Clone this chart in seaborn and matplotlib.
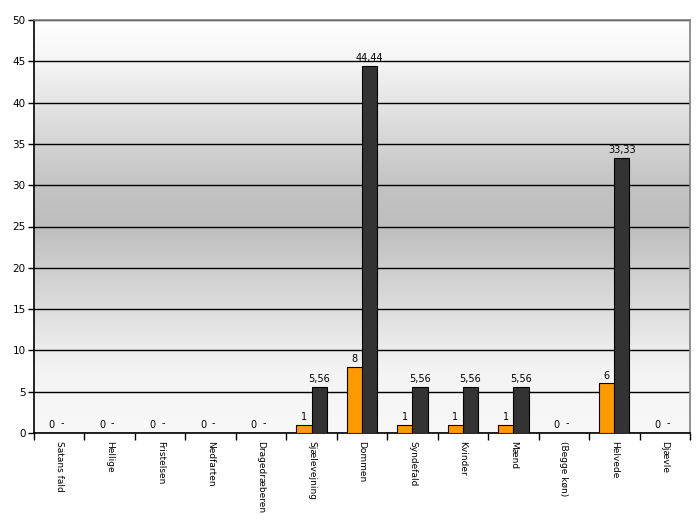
import numpy as np
import pandas as pd
import seaborn as sns
import matplotlib.pyplot as plt
from matplotlib.colors import LinearSegmentedColormap

categories = ['Satans fald', 'Hellige', 'Fristelsen', 'Nedfarten', 'Dragedræberen',
              'Sjælevejning', 'Dommen', 'Syndefald', 'Kvinder', 'Mænd',
              '(Begge køn)', 'Helvede', 'Djævle']
antal = [0, 0, 0, 0, 0, 1, 8, 1, 1, 1, 0, 6, 0]
procent = [0, 0, 0, 0, 0, 5.56, 44.44, 5.56, 5.56, 5.56, 0, 33.33, 0]
series = ['Antal', 'Procent']
colors = ['#FF9900', '#333333']

df = pd.DataFrame({
    'kategori': categories * 2,
    'serie': [series[0]] * len(categories) + [series[1]] * len(categories),
    'vaerdi': antal + procent,
})

sns.set_style('white')
plt.rcParams['font.family'] = ['DejaVu Sans']
plt.rcParams['text.color'] = 'black'
plt.rcParams['xtick.color'] = 'black'
plt.rcParams['ytick.color'] = 'black'

fig = plt.figure(figsize=(7, 5.25), dpi=100)
ax = fig.add_axes([34 / 700, 1 - 433 / 525, 656 / 700, 413 / 525])

# vertical grey gradient behind the bars
grad = LinearSegmentedColormap.from_list(
    'bg', [(0.0, '#f8f8f8'), (0.15, '#f4f4f4'), (0.5, '#bebebe'), (0.6, '#c3c3c3'),
           (0.9, '#f5f5f5'), (1.0, '#ffffff')])
ax.imshow(np.linspace(0, 1, 256).reshape(-1, 1), cmap=grad, aspect='auto',
          extent=[0, 1, 0, 1], transform=ax.transAxes, origin='lower', zorder=0)

sns.barplot(data=df, x='kategori', y='vaerdi', hue='serie', hue_order=series,
            palette=colors, saturation=1, width=0.6, gap=0, edgecolor='black',
            linewidth=0.8, legend=False, ax=ax, zorder=3)

ax.set_xlim(-0.5, len(categories) - 0.5)
ax.set_ylim(0, 50)
ax.set_yticks(range(0, 51, 5))
ax.yaxis.grid(True, color='black', linewidth=1.0, zorder=1)
ax.set_axisbelow(True)
ax.set_xlabel('')
ax.set_ylabel('')

for s in ['left', 'bottom']:
    ax.spines[s].set_color('black')
    ax.spines[s].set_linewidth(1.2)
for s in ['top', 'right']:
    ax.spines[s].set_color('#808080')
    ax.spines[s].set_linewidth(1.2)

ax.tick_params(axis='y', left=True, length=4, width=1, labelsize=7.5, pad=2)
ax.set_xticks(range(len(categories)))
ax.set_xticklabels(categories, rotation=270, fontsize=6.5)
ax.tick_params(axis='x', which='major', length=0, pad=6)
ax.set_xticks(np.arange(-0.5, len(categories)), minor=True)
ax.tick_params(axis='x', which='minor', bottom=True, length=5, width=1)

def fmt(v):
    if float(v).is_integer():
        return str(int(v))
    return f'{v:.2f}'.replace('.', ',')

ax.bar_label(ax.containers[0], labels=[fmt(v) for v in antal], fontsize=7, padding=2)
ax.bar_label(ax.containers[1], labels=['' if v == 0 else fmt(v) for v in procent],
             fontsize=7, padding=2)
# zero percentages are shown as a dash next to the count
for patch, v in zip(ax.containers[1], procent):
    if v == 0:
        ax.text(patch.get_x() + patch.get_width() * 0.2, 0.6, '-', fontsize=7,
                ha='center', va='bottom')

fig.savefig('out.png', dpi=100)
